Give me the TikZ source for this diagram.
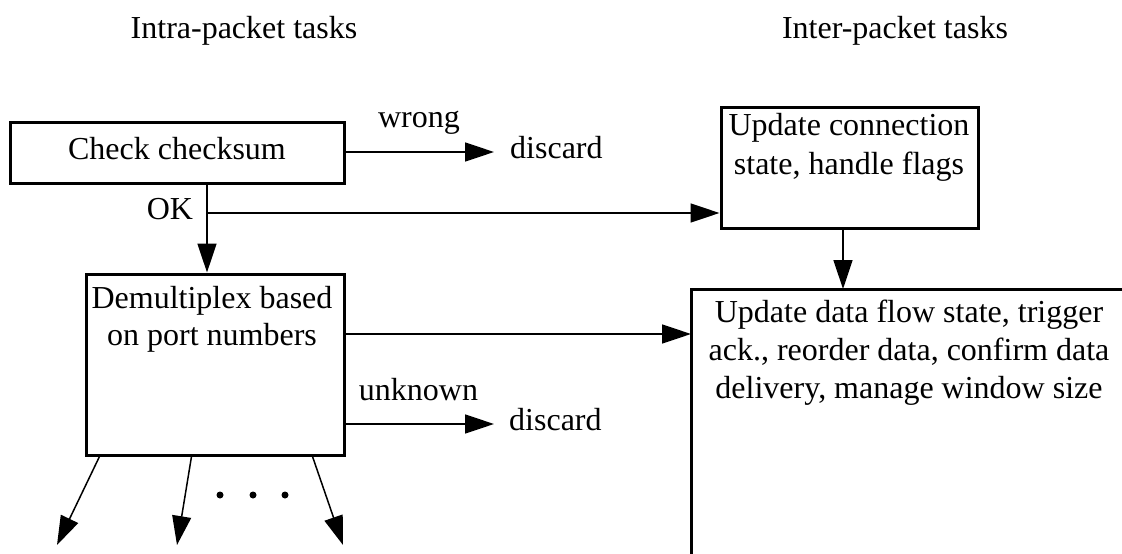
\documentclass[tikz,border=0pt]{standalone}
\usepackage{fontspec}
\setmainfont{Liberation Serif}
\usetikzlibrary{arrows.meta}
\begin{document}
\begin{tikzpicture}[x=1pt,y=-1pt,
  box/.style={draw, line width=3pt, inner sep=0pt},
  txt/.style={inner sep=0pt, font=\fontsize{32}{38}\selectfont, align=center},
  conn/.style={line width=1.5pt, -{Triangle[length=29pt,width=19pt]}}]
\useasboundingbox (0,0) rectangle (1122,554);
\clip (0,0) rectangle (1122,554);

% column headings
\node (hintra) [txt, anchor=base] at (244,38) {Intra-packet tasks};
\node (hinter) [txt, anchor=base] at (895,38) {Inter-packet tasks};

% boxes
\node (chk) [box, minimum width=334pt, minimum height=61pt] at (177,152.5) {};
\node (dmx) [box, minimum width=258pt, minimum height=181pt] at (215,364.5) {};
\node (upd) [box, minimum width=257pt, minimum height=121pt] at (849.5,167.5) {};
\node (flow) [box, minimum width=600pt, minimum height=400pt, anchor=north west,
  outer sep=0pt] at (691,289) {};

% box texts
\node (chkT) [txt, anchor=base] at (177,159) {Check checksum};
\node (dmxT1) [txt, anchor=base] at (212,308) {Demultiplex based};
\node (dmxT2) [txt, anchor=base] at (212,345) {on port numbers};
\node (updT1) [txt, anchor=base] at (849,135) {Update connection};
\node (updT2) [txt, anchor=base] at (849,174) {state, handle flags};
\node (flowT1) [txt, anchor=base] at (909,322) {Update data flow state, trigger};
\node (flowT2) [txt, anchor=base] at (909,360) {ack., reorder data, confirm data};
\node (flowT3) [txt, anchor=base] at (909,398) {delivery, manage window size};

% labels
\node (lwrong) [txt, anchor=base] at (419,127) {wrong};
\node (ldis1) [txt, anchor=base west] at (510,158) {discard};
\node (lok) [txt, anchor=base] at (170,219) {OK};
\node (lunk) [txt, anchor=base] at (418.5,400) {unknown};
\node (ldis2) [txt, anchor=base west] at (509,430) {discard};

% connector points
\coordinate (w1) at (494,152);
\coordinate (ok) at (207,213);
\coordinate (d1) at (344,334);
\coordinate (u1) at (494,424);
\coordinate (o1) at (57,545);
\coordinate (o2) at (177,545);
\coordinate (o3) at (343,545);

% connectors
\draw[conn] (chk.east |- w1) -- (w1);
\draw[conn] (chk.south -| ok) -- (dmx.north -| ok);
\draw[conn] (ok) -- (upd.west |- ok);
\draw[conn] (upd.south -| 843,0) -- (flow.north -| 843,0);
\draw[conn] (dmx.east |- d1) -- (flow.west |- d1);
\draw[conn] (dmx.east |- u1) -- (u1);
\draw[conn] ([xshift=15pt]dmx.south west) -- (o1);
\draw[conn] ([xshift=107pt]dmx.south west) -- (o2);
\draw[conn] ([xshift=228pt]dmx.south west) -- (o3);

% ellipsis between outputs
\fill (220,495) circle (3.5pt);
\fill (253,495) circle (3.5pt);
\fill (285,495) circle (3.5pt);
\end{tikzpicture}
\end{document}
